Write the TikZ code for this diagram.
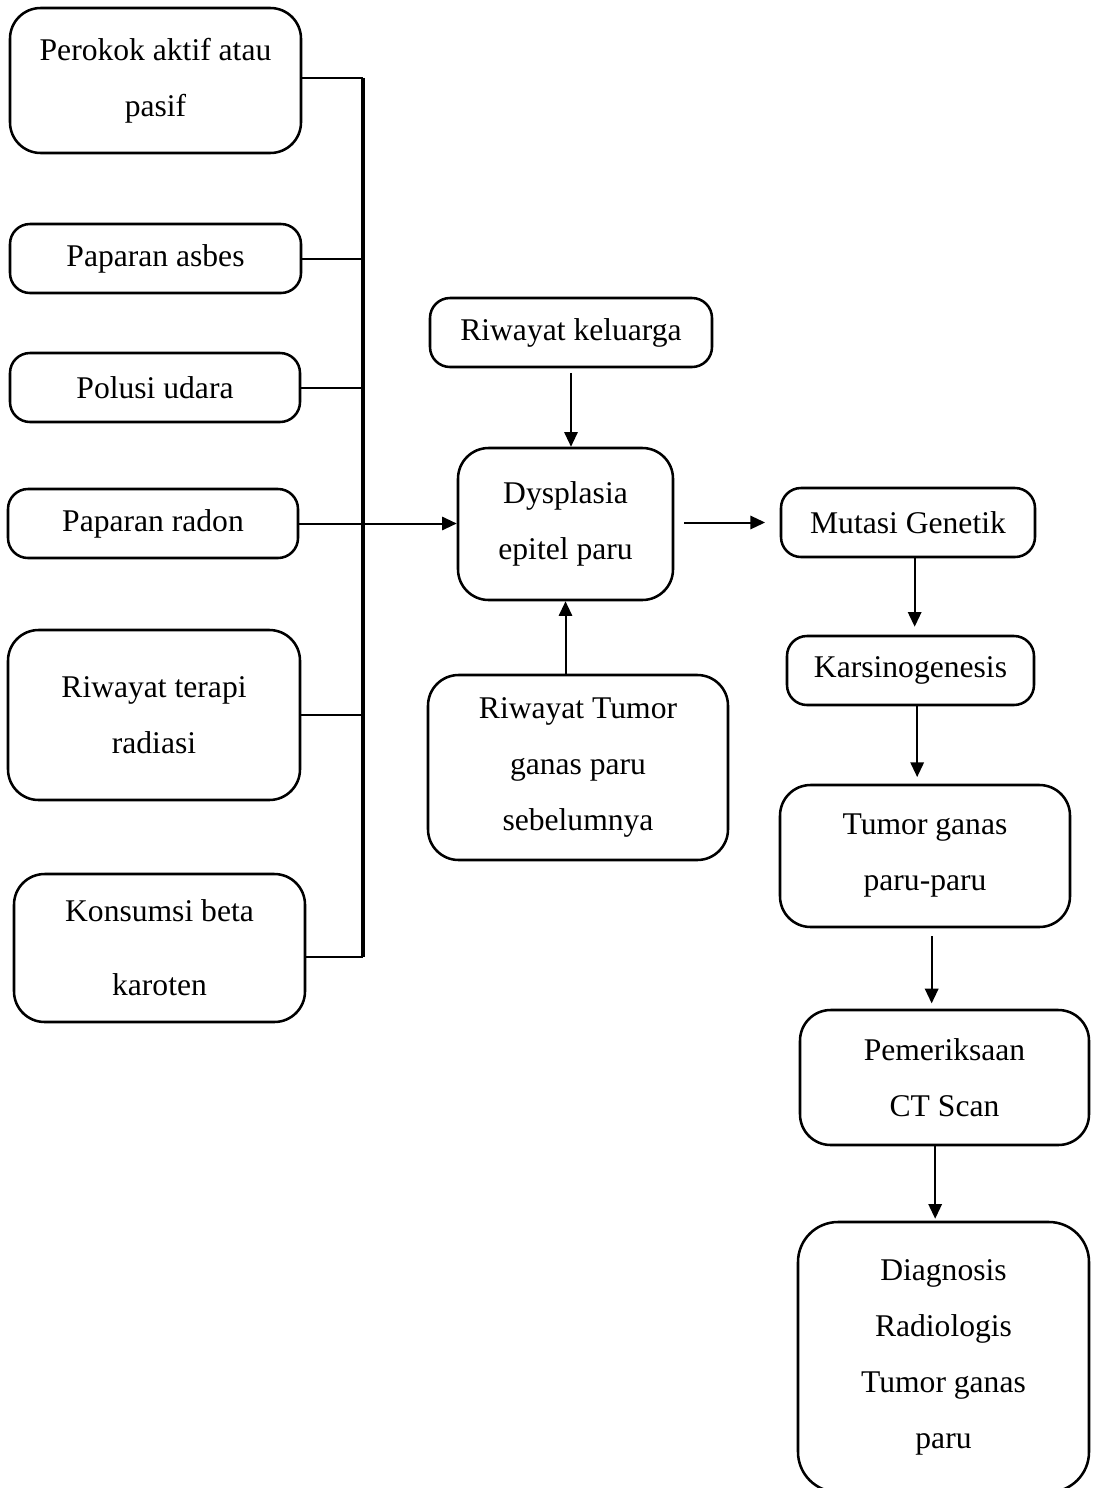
\documentclass[tikz,border=0pt]{standalone}
\usepackage{fontspec}
\setmainfont{Liberation Serif}
\usetikzlibrary{arrows.meta}

\tikzset{
  box/.style={draw, line width=1.9pt, rounded corners=15pt, align=center, inner sep=0pt,
    font=\fontsize{23.7pt}{42pt}\selectfont},
  bigbox/.style={box, rounded corners=23pt},
  wh/.style 2 args={minimum width=#1*0.75pt, minimum height=#2*0.75pt},
  link/.style={line width=1.5pt},
  arr/.style={line width=1.5pt, -{Triangle[length=11pt,width=10pt]}}
}

\begin{document}
\begin{tikzpicture}[x=0.75pt,y=0.75pt,yscale=-1,xscale=1]
\useasboundingbox (0,0) rectangle (1098,1488);

% Left column
\node [bigbox, wh={291}{145}] (perokok) at (155.5,80.5) {Perokok aktif atau\\pasif};
\node [box, wh={291}{69}] (asbes) at (155.5,258.5) {Paparan asbes};
\node [box, wh={290}{69}] (polusi) at (155,387.5) {Polusi udara};
\node [box, wh={290}{69}] (radon) at (153,523.5) {Paparan radon};
\node [bigbox, wh={292}{170}] (terapi) at (154,715) {Riwayat terapi\\radiasi};
\node [bigbox, wh={291}{148}] (beta) at (159.5,948) {Konsumsi beta\\[13.5pt]karoten};

% Middle column
\node [box, wh={282}{69}] (keluarga) at (571,332.5) {Riwayat keluarga};
\node [bigbox, wh={215}{152}] (dysplasia) at (565.5,524) {Dysplasia\\epitel paru};
\node [bigbox, wh={300}{185}] (tumorlama) at (578,767.5) {Riwayat Tumor\\ganas paru\\sebelumnya};

% Right column
\node [box, wh={254}{69}] (mutasi) at (908,522.5) {Mutasi Genetik};
\node [box, wh={247}{69}] (karsino) at (910.5,670.5) {Karsinogenesis};
\node [bigbox, wh={290}{142}] (tumor) at (925,856) {Tumor ganas\\paru-paru};
\node [bigbox, wh={289}{135}] (ct) at (944.5,1077.5) {Pemeriksaan\\CT Scan};
\node [bigbox, wh={291}{270}, rounded corners=30pt] (diagnosis) at (943.5,1357) {Diagnosis\\Radiologis\\Tumor ganas\\paru};

% Bus line
\coordinate (bt) at (363,78);
\coordinate (bb) at (363,957);
\draw [line width=3pt] (bt) -- (bb);

\draw [link] (perokok.east |- bt) -- (bt);
\draw [link] (asbes.east) -- (asbes.east -| bt);
\draw [link] (polusi.east) -- (polusi.east -| bt);
\draw [link] (terapi.east) -- (terapi.east -| bt);
\draw [link] (bb -| beta.east) -- (bb);
\draw [arr] (radon.east) -- (radon.east -| dysplasia.west);

% Arrows into and out of dysplasia
\draw [arr, shorten <=3.5pt] (keluarga.south) -- (keluarga.south |- dysplasia.north);
\draw [arr] (tumorlama.north -| dysplasia.south) -- (dysplasia.south);
\draw [arr, shorten <=7.5pt, shorten >=11pt] (dysplasia.east |- mutasi.west) -- (mutasi.west);

% Right chain
\draw [arr, shorten >=6pt] ([xshift=5pt]mutasi.south) -- ([xshift=5pt]mutasi.south |- karsino.north);
\draw [arr, shorten >=5pt] ([xshift=5pt]karsino.south) -- ([xshift=5pt]karsino.south |- tumor.north);
\draw [arr, shorten <=6pt, shorten >=4pt] ([xshift=5pt]tumor.south) -- ([xshift=5pt]tumor.south |- ct.north);
\draw [arr, shorten >=1.5pt] ([xshift=-7pt]ct.south) -- ([xshift=-7pt]ct.south |- diagnosis.north);

\end{tikzpicture}
\end{document}
